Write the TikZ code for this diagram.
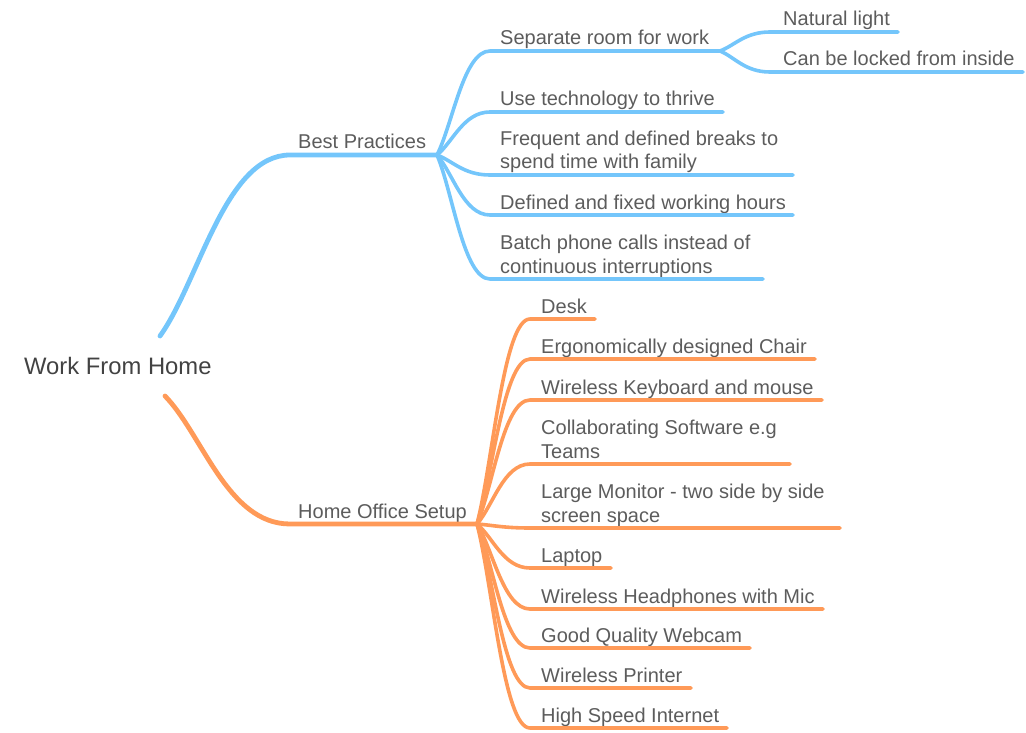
\documentclass[tikz,border=0pt]{standalone}
\usepackage{fontspec}
\setmainfont{Liberation Sans}
\usetikzlibrary{calc}
\definecolor{bl}{HTML}{74C6FB}
\definecolor{og}{HTML}{FF9A58}
\definecolor{tx}{HTML}{5C5C5C}
\definecolor{rt}{HTML}{424242}
\newcommand\brline[4]{%
  \draw[#1] (#2) .. controls ($(#2)!0.3!(#3)$) and ($(#3)!0.5!(#3 -| #2)$) .. (#3) -- (#4);}
\begin{document}
\begin{tikzpicture}[x=1pt,y=-1pt,
  lbl/.style={anchor=base west, inner sep=0pt, text=tx, font=\fontsize{20}{24}\selectfont, align=left},
  rootlbl/.style={anchor=base west, inner sep=0pt, text=rt, font=\fontsize{23.8}{28}\selectfont},
  bb/.style={draw=bl, line width=3.6pt, line cap=round, line join=round},
  ob/.style={draw=og, line width=3.6pt, line cap=round, line join=round},
  mainw/.style={line width=4.8pt}]
\useasboundingbox (0,0) rectangle (1026,733);

% root
\node[rootlbl] (root) at (24,374) {Work From Home};
\coordinate (r-b) at (160,336);
\coordinate (r-o) at (165,396);

% Best Practices
\node[lbl] (bp) at (298,149) {Best Practices};
\coordinate (bp-s) at (290,155); \coordinate (bp-f) at (437,155);
\brline{bb,mainw}{r-b}{bp-s}{bp-f}

\node[lbl] (b1) at (500,45) {Separate room for work};
\coordinate (b1-s) at (490,51); \coordinate (b1-e) at (720,51);
\brline{bb}{bp-f}{b1-s}{b1-e}

\node[lbl] (b11) at (783,26) {Natural light};
\coordinate (b11-s) at (770,32); \coordinate (b11-e) at (898,32);
\brline{bb}{b1-e}{b11-s}{b11-e}

\node[lbl] (b12) at (783,66) {Can be locked from inside};
\coordinate (b12-s) at (770,72); \coordinate (b12-e) at (1023,72);
\brline{bb}{b1-e}{b12-s}{b12-e}

\node[lbl] (b2) at (500,106) {Use technology to thrive};
\coordinate (b2-s) at (490,112); \coordinate (b2-e) at (723,112);
\brline{bb}{bp-f}{b2-s}{b2-e}

\node[lbl] (b3) at (500,169) {Frequent and defined breaks to\\spend time with family};
\coordinate (b3-s) at (490,175); \coordinate (b3-e) at (793,175);
\brline{bb}{bp-f}{b3-s}{b3-e}

\node[lbl] (b4) at (500,209) {Defined and fixed working hours};
\coordinate (b4-s) at (490,215); \coordinate (b4-e) at (793,215);
\brline{bb}{bp-f}{b4-s}{b4-e}

\node[lbl] (b5) at (500,273) {Batch phone calls instead of\\continuous interruptions};
\coordinate (b5-s) at (490,279); \coordinate (b5-e) at (763,279);
\brline{bb}{bp-f}{b5-s}{b5-e}

% Home Office Setup
\node[lbl] (ho) at (298,518) {Home Office Setup};
\coordinate (ho-s) at (290,524); \coordinate (ho-f) at (477,524);
\brline{ob,mainw}{r-o}{ho-s}{ho-f}

\node[lbl] (h1) at (541,313) {Desk};
\coordinate (h1-s) at (530,319); \coordinate (h1-e) at (595,319);
\brline{ob}{ho-f}{h1-s}{h1-e}

\node[lbl] (h2) at (541,353) {Ergonomically designed Chair};
\coordinate (h2-s) at (530,359); \coordinate (h2-e) at (815,359);
\brline{ob}{ho-f}{h2-s}{h2-e}

\node[lbl] (h3) at (541,394) {Wireless Keyboard and mouse};
\coordinate (h3-s) at (530,400); \coordinate (h3-e) at (822,400);
\brline{ob}{ho-f}{h3-s}{h3-e}

\node[lbl] (h4) at (541,458) {Collaborating Software e.g\\Teams};
\coordinate (h4-s) at (530,464); \coordinate (h4-e) at (790,464);
\brline{ob}{ho-f}{h4-s}{h4-e}

\node[lbl] (h5) at (541,522) {Large Monitor - two side by side\\screen space};
\coordinate (h5-s) at (530,528); \coordinate (h5-e) at (840,528);
\brline{ob}{ho-f}{h5-s}{h5-e}

\node[lbl] (h6) at (541,562) {Laptop};
\coordinate (h6-s) at (530,568); \coordinate (h6-e) at (611,568);
\brline{ob}{ho-f}{h6-s}{h6-e}

\node[lbl] (h7) at (541,603) {Wireless Headphones with Mic};
\coordinate (h7-s) at (530,609); \coordinate (h7-e) at (823,609);
\brline{ob}{ho-f}{h7-s}{h7-e}

\node[lbl] (h8) at (541,642) {Good Quality Webcam};
\coordinate (h8-s) at (530,648); \coordinate (h8-e) at (750,648);
\brline{ob}{ho-f}{h8-s}{h8-e}

\node[lbl] (h9) at (541,682) {Wireless Printer};
\coordinate (h9-s) at (530,688); \coordinate (h9-e) at (691,688);
\brline{ob}{ho-f}{h9-s}{h9-e}

\node[lbl] (h10) at (541,722) {High Speed Internet};
\coordinate (h10-s) at (530,728); \coordinate (h10-e) at (727,728);
\brline{ob}{ho-f}{h10-s}{h10-e}
\end{tikzpicture}
\end{document}
